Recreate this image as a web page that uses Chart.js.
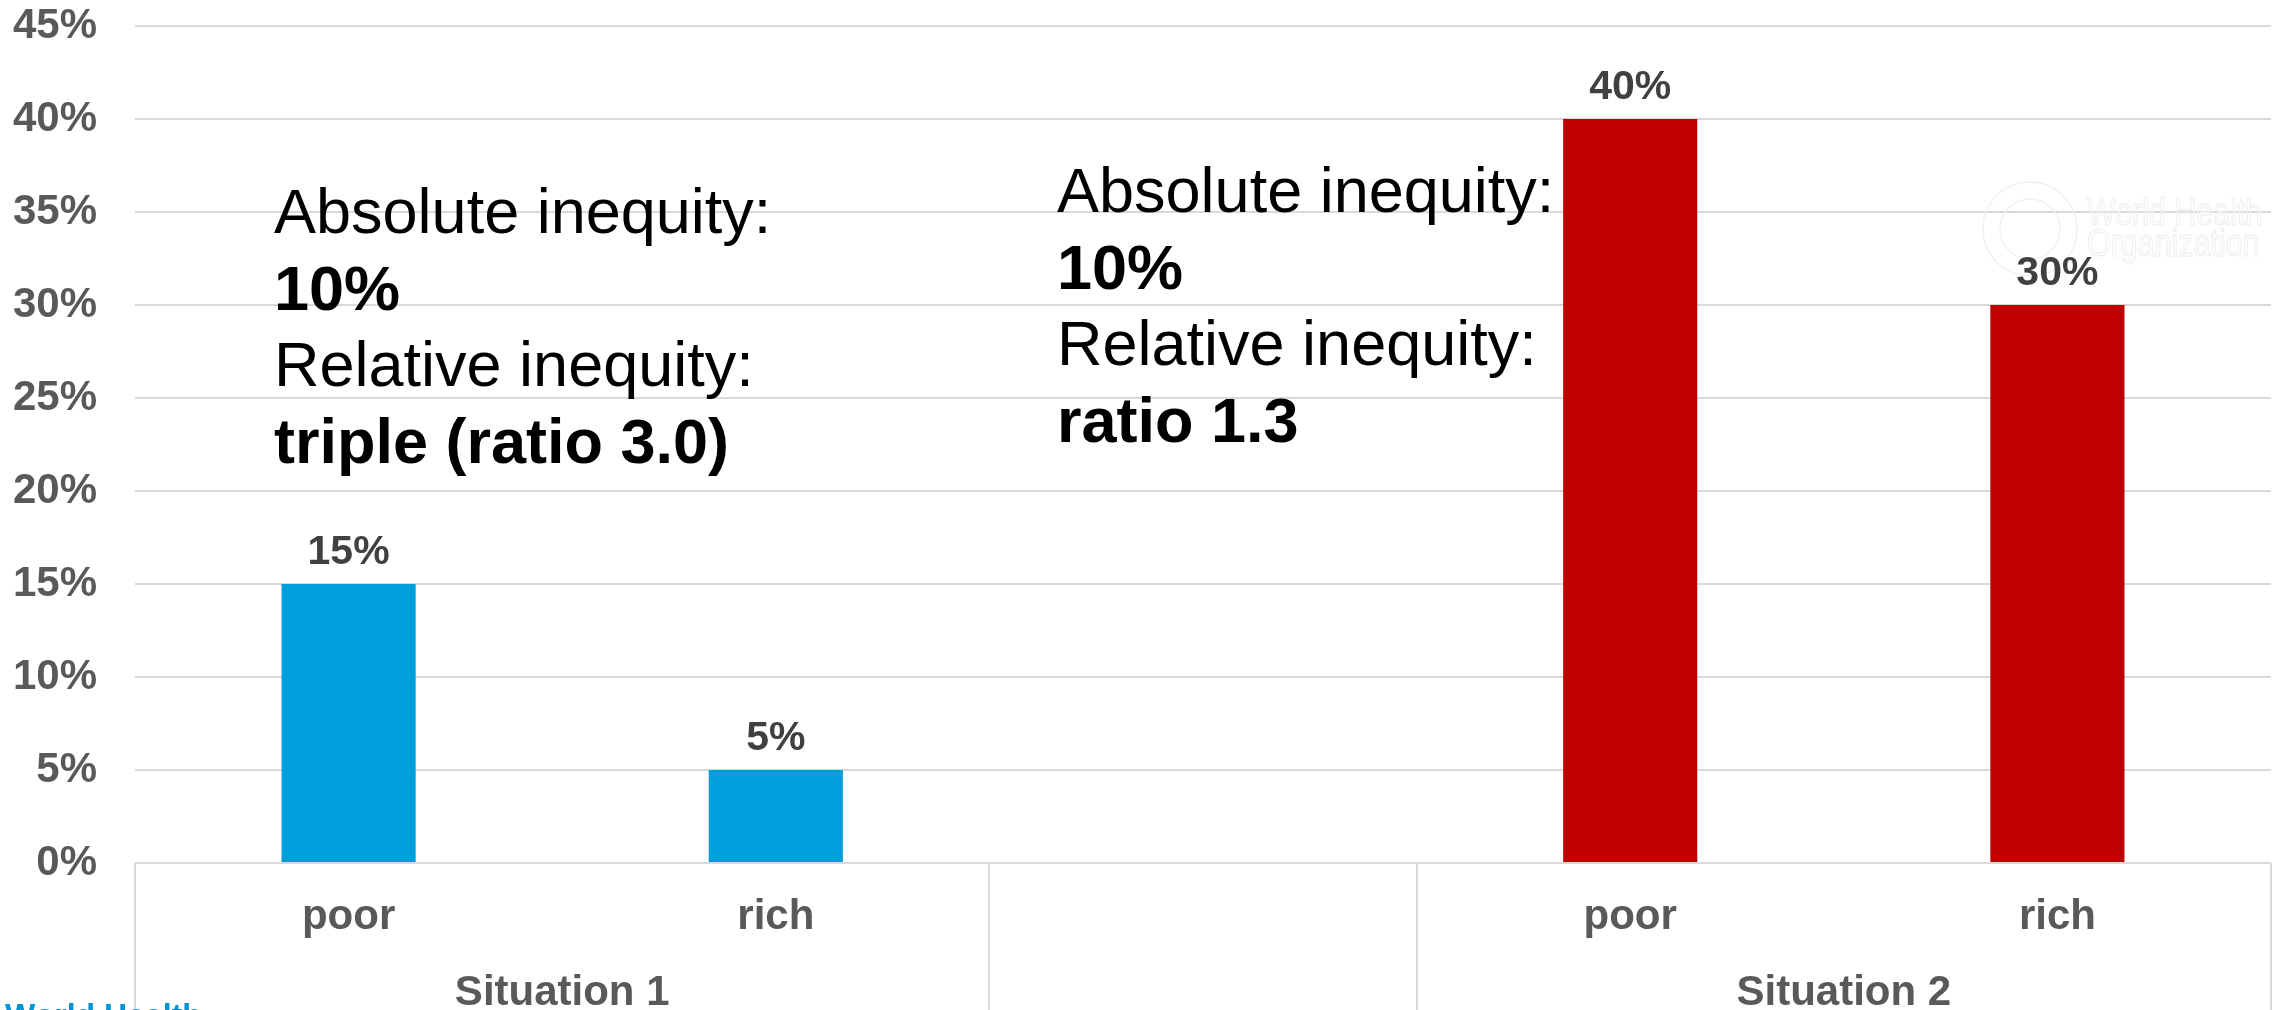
<!DOCTYPE html>
<html>
<head>
<meta charset="utf-8">
<title>Absolute and relative inequity</title>
<script src="https://cdn.jsdelivr.net/npm/chart.js@4.4.1/dist/chart.umd.min.js"></script>
<style>
  html, body { margin: 0; padding: 0; background: #ffffff; }
  #wrap { width: 2280px; height: 1010px; }
  canvas { display: block; }
</style>
</head>
<body>
<div id="wrap"><canvas id="c" width="2280" height="1010"></canvas></div>
<script>
// Categories along the x axis (the middle slot is an empty spacer between the two situations)
const categories = ['poor', 'rich', '', 'poor', 'rich'];

// Prevalence (%) per wealth group
const situation1Values = [15, 5, null, null, null];
const situation2Values = [null, null, null, 40, 30];

// Group labels under the categories: [name, first index, last index]
const groupNames = ['Situation 1', 'Situation 2'];
const groupFirst = [0, 3];
const groupLast = [1, 4];

// Y axis range and tick step (percent)
const yMin = 0;
const yMax = 45;
const yStep = 5;

// Explanatory text beside each situation; bold flags per line
const noteSituation1 = ['Absolute inequity:', '10%', 'Relative inequity:', 'triple (ratio 3.0)'];
const noteSituation2 = ['Absolute inequity:', '10%', 'Relative inequity:', 'ratio 1.3'];
const noteBold = [false, true, false, true];

const FONT = '"Liberation Sans", Arial, Helvetica, sans-serif';
Chart.defaults.font.family = FONT;

const BLUE = '#009EDB';
const RED = '#C00000';
const GRID = '#d9d9d9';
const AXIS_TEXT = '#595959';
const VALUE_TEXT = '#404040';

// Faint organisation mark behind the bars, top right
const watermark = {
  id: 'watermark',
  beforeDatasetsDraw(chart) {
    const ctx = chart.ctx;
    ctx.save();
    ctx.strokeStyle = '#f1f1f1';
    ctx.lineWidth = 1.5;
    ctx.beginPath();
    ctx.arc(2030, 229, 47, 0, Math.PI * 2);
    ctx.stroke();
    ctx.beginPath();
    ctx.arc(2030, 229, 30, 0, Math.PI * 2);
    ctx.stroke();
    ctx.translate(2087, 225);
    ctx.scale(0.78, 1);
    ctx.font = '39px ' + FONT;
    ctx.strokeText('World Health', 0, 0);
    ctx.strokeText('Organization', 0, 31);
    ctx.restore();
  }
};

// Value labels above each bar
const valueLabels = {
  id: 'valueLabels',
  afterDatasetsDraw(chart) {
    const ctx = chart.ctx;
    ctx.save();
    ctx.font = 'bold 41px ' + FONT;
    ctx.fillStyle = VALUE_TEXT;
    ctx.textAlign = 'center';
    ctx.textBaseline = 'alphabetic';
    chart.data.datasets.forEach((ds, di) => {
      const meta = chart.getDatasetMeta(di);
      meta.data.forEach((bar, i) => {
        const v = ds.data[i];
        if (v === null || v === undefined) return;
        ctx.fillText(v + '%', bar.x, bar.y - 20);
      });
    });
    ctx.restore();
  }
};

// Group separators, group names, notes and the footer text
const decorations = {
  id: 'decorations',
  afterDraw(chart) {
    const ctx = chart.ctx;
    const xs = chart.scales.x;
    const area = chart.chartArea;
    const H = chart.height;

    ctx.save();

    // vertical separators in the category area
    ctx.strokeStyle = GRID;
    ctx.lineWidth = 2;
    const bounds = [groupFirst[0] - 0.5, groupLast[0] + 0.5, groupFirst[1] - 0.5, groupLast[1] + 0.5];
    bounds.forEach(b => {
      const x = Math.round(xs.getPixelForValue(b));
      ctx.beginPath();
      ctx.moveTo(x, area.bottom);
      ctx.lineTo(x, H);
      ctx.stroke();
    });

    // group names
    ctx.font = 'bold 42px ' + FONT;
    ctx.fillStyle = AXIS_TEXT;
    ctx.textAlign = 'center';
    ctx.textBaseline = 'alphabetic';
    groupNames.forEach((name, g) => {
      const cx = xs.getPixelForValue((groupFirst[g] + groupLast[g]) / 2);
      ctx.fillText(name, cx, 1005);
    });

    // explanatory notes
    ctx.fillStyle = '#000000';
    ctx.textAlign = 'left';
    const drawNote = (lines, x, y0) => {
      lines.forEach((t, i) => {
        ctx.font = (noteBold[i] ? 'bold ' : '') + '63px ' + FONT;
        ctx.fillText(t, x, y0 + i * 76.7);
      });
    };
    drawNote(noteSituation1, 274, 233);
    drawNote(noteSituation2, 1057, 212);

    // footer text, clipped by the bottom edge
    ctx.fillStyle = '#0093D5';
    ctx.font = 'bold 32px ' + FONT;
    ctx.textAlign = 'left';
    ctx.fillText('World Health', 5, 1026);

    ctx.restore();
  }
};

new Chart(document.getElementById('c'), {
  type: 'bar',
  data: {
    labels: categories,
    datasets: [
      {
        label: groupNames[0],
        data: situation1Values,
        backgroundColor: BLUE,
        grouped: false,
        categoryPercentage: 1,
        barPercentage: 0.314
      },
      {
        label: groupNames[1],
        data: situation2Values,
        backgroundColor: RED,
        grouped: false,
        categoryPercentage: 1,
        barPercentage: 0.314
      }
    ]
  },
  options: {
    responsive: false,
    devicePixelRatio: 1,
    animation: false,
    layout: { padding: { top: 26, right: 9, bottom: 0, left: 0 } },
    plugins: {
      legend: { display: false },
      tooltip: { enabled: false }
    },
    scales: {
      x: {
        grid: { display: false },
        border: { display: false },
        ticks: {
          color: AXIS_TEXT,
          font: { size: 42, weight: 'bold' },
          padding: 21,
          maxRotation: 0,
          autoSkip: false
        },
        afterFit(scale) {
          scale.height = 147;
          scale.paddingLeft = 0;
          scale.paddingRight = 0;
        }
      },
      y: {
        min: yMin,
        max: yMax,
        grid: { color: GRID, lineWidth: 2, drawTicks: false },
        border: { display: false },
        ticks: {
          stepSize: yStep,
          color: AXIS_TEXT,
          font: { size: 42, weight: 'bold' },
          padding: 38,
          callback: v => v + '%'
        },
        afterFit(scale) {
          scale.width = 135;
          scale.paddingTop = 0;
          scale.paddingBottom = 0;
        }
      }
    }
  },
  plugins: [watermark, valueLabels, decorations]
});
</script>
</body>
</html>
